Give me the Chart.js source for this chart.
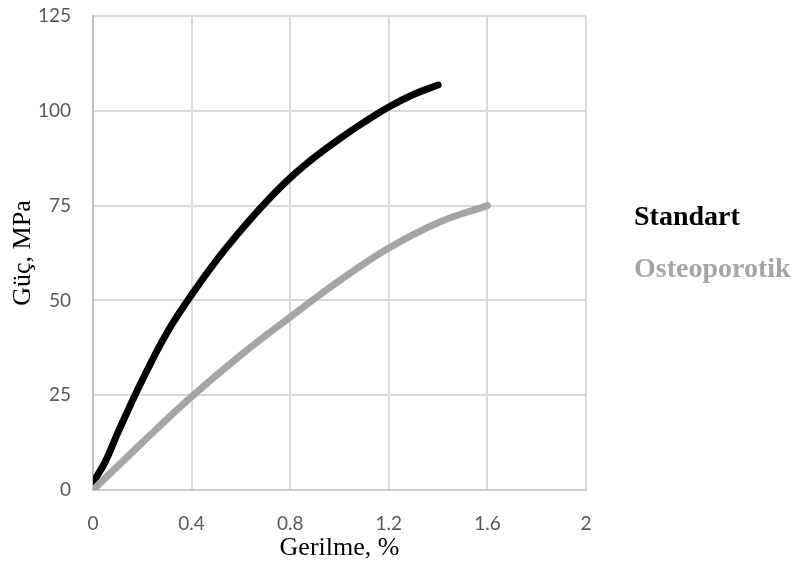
<!DOCTYPE html>
<html>
<head>
<meta charset="utf-8">
<script src="https://cdn.jsdelivr.net/npm/chart.js@4/dist/chart.umd.min.js"></script>
<style>
  html, body { margin: 0; padding: 0; background: #fff; }
  #wrap { width: 795px; height: 566px; }
</style>
</head>
<body>
<div id="wrap"><canvas id="chart"></canvas></div>
<script>
// Strain (%) vs strength (MPa)
const standartX = [0, 0.05, 0.1, 0.2, 0.3, 0.4, 0.5, 0.6, 0.7, 0.8, 0.9, 1.0, 1.1, 1.2, 1.3, 1.4];
const standartY = [2, 7.5, 15, 29, 41.5, 51.5, 60.5, 68.5, 75.8, 82.3, 87.8, 92.6, 97, 101, 104.3, 106.8];
const osteoX = [0, 0.2, 0.4, 0.6, 0.8, 1.0, 1.2, 1.4, 1.6];
const osteoY = [0, 12.5, 24.6, 35.6, 45.6, 55.2, 63.8, 70.5, 75];
const xTicks = [0, 0.4, 0.8, 1.2, 1.6, 2];
const yTicks = [0, 25, 50, 75, 100, 125];

const toPoints = (xs, ys) => xs.map((x, i) => ({ x: x, y: ys[i] }));

const tickFont = { family: 'Lato', size: 19 };
const titleFont = { family: 'Liberation Serif', size: 26 };

new Chart(document.getElementById('chart'), {
    type: 'line',
    data: {
        datasets: [{
            label: 'Standart',
            data: toPoints(standartX, standartY),
            borderColor: '#000000',
            borderWidth: 7,
            order: 0
        }, {
            label: 'Osteoporotik',
            data: toPoints(osteoX, osteoY),
            borderColor: '#a5a5a5',
            borderWidth: 7,
            order: -1   // drawn on top of the black line
        }]
    },
    options: {
        responsive: true,
        maintainAspectRatio: false,
        animation: false,
        elements: {
            point: { radius: 0 },
            line: { tension: 0.4, borderCapStyle: 'round', borderJoinStyle: 'round' }
        },
        layout: { padding: { top: 16, left: 0, right: 0, bottom: 0 } },
        plugins: {
            tooltip: { enabled: false },
            legend: {
                position: 'right',
                align: 'start',
                maxWidth: 209,
                title: { display: true, text: ' ', font: { size: 28 }, padding: { top: 0, bottom: 130 } },
                labels: {
                    boxWidth: 10,
                    boxHeight: 0,
                    padding: 24,
                    font: { family: 'Liberation Serif', size: 28, weight: 'bold' },
                    sort: (a, b) => a.datasetIndex - b.datasetIndex,
                    generateLabels: chart => chart.data.datasets.map((ds, i) => ({
                        text: ds.label,
                        fontColor: ds.borderColor,
                        fillStyle: 'rgba(0,0,0,0)',
                        strokeStyle: 'rgba(0,0,0,0)',
                        lineWidth: 0,
                        datasetIndex: i
                    }))
                }
            }
        },
        scales: {
            x: {
                type: 'linear',
                min: 0,
                max: 2,
                afterBuildTicks: axis => { axis.ticks = xTicks.map(v => ({ value: v })); },
                afterFit: axis => { axis.height = 76; },
                grid: { color: '#d9d9d9', lineWidth: 2, drawTicks: false },
                border: { color: '#cccccc', width: 2 },
                ticks: { color: '#595959', font: tickFont, padding: 22, callback: v => String(v) },
                title: { display: true, text: 'Gerilme, %', color: '#000', font: titleFont, padding: { top: 0, bottom: 2 } }
            },
            y: {
                type: 'linear',
                min: 0,
                max: 125,
                afterBuildTicks: axis => { axis.ticks = yTicks.map(v => ({ value: v })); },
                afterFit: axis => {
                    axis.width = 93;
                    axis.paddingTop = 12;
                },
                grid: { color: '#d9d9d9', lineWidth: 2, drawTicks: false },
                border: { color: '#bfbfbf', width: 2 },
                ticks: { color: '#595959', font: tickFont, padding: 22 },
                title: { display: true, text: 'Güç, MPa', color: '#000', font: titleFont, padding: { top: 8, bottom: 0 } }
            }
        }
    }
});
</script>
</body>
</html>
